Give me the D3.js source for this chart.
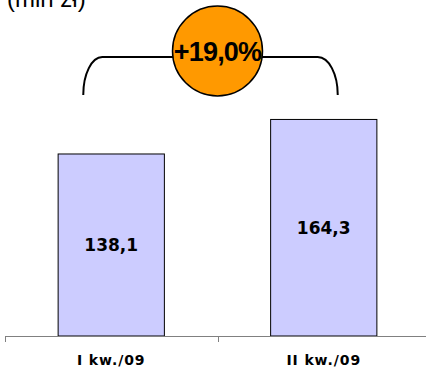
<!DOCTYPE html>
<html>
<head>
<meta charset="utf-8">
<script src="https://cdn.jsdelivr.net/npm/d3@7"></script>
<style>
  html, body { margin: 0; padding: 0; background: #fff; }
  svg { display: block; }
</style>
</head>
<body>
<svg id="chart" width="426" height="368"></svg>
<script>
// Quarterly figures (mln zł)
const categories = ["I kw./09", "II kw./09"];
const values = [138.1, 164.3];
const valueLabels = ["138,1", "164,3"];
const unitLabel = "(mln zł)";
const growthLabel = "+19,0%";

const W = 426, H = 368;
const svg = d3.select("#chart");

const baseY = 336;
const x = d3.scaleBand().domain(categories).range([5, 430]).paddingInner(0).paddingOuter(0);
const y = d3.scaleLinear().domain([0, 200]).range([baseY, baseY - 263.6]);
const barW = x.bandwidth() * 0.5;

// unit caption, partly above the top edge
svg.append("text")
  .attr("x", 7).attr("y", 7)
  .attr("font-family", "Liberation Sans, Arial, sans-serif")
  .attr("font-size", 24)
  .attr("fill", "#000")
  .text(unitLabel);

// bars
svg.selectAll("rect.bar").data(values).enter().append("rect")
  .attr("class", "bar")
  .attr("x", (d, i) => x(categories[i]) + (x.bandwidth() - barW) / 2)
  .attr("y", d => y(d))
  .attr("width", barW)
  .attr("height", d => baseY - y(d))
  .attr("fill", "#CCCCFF")
  .attr("stroke", "#000")
  .attr("stroke-width", 1);

// value labels in the middle of each bar
svg.selectAll("text.val").data(values).enter().append("text")
  .attr("class", "val")
  .attr("x", (d, i) => x(categories[i]) + x.bandwidth() / 2)
  .attr("y", d => (y(d) + baseY) / 2)
  .attr("dy", "0.36em")
  .attr("text-anchor", "middle")
  .attr("font-family", "DejaVu Sans, Verdana, sans-serif")
  .attr("font-weight", "bold")
  .attr("font-size", 17)
  .attr("fill", "#000")
  .text((d, i) => valueLabels[i]);

// category axis
const axis = svg.append("g").attr("transform", `translate(0,${baseY})`);
axis.append("line")
  .attr("x1", 5).attr("x2", W)
  .attr("y1", 0.5).attr("y2", 0.5)
  .attr("stroke", "#808080").attr("stroke-width", 1);
const tickXs = categories.map(c => x(c)).concat([x.range()[1]]);
axis.selectAll("line.tick").data(tickXs).enter().append("line")
  .attr("class", "tick")
  .attr("x1", d => Math.round(d) + 0.5).attr("x2", d => Math.round(d) + 0.5)
  .attr("y1", 0).attr("y2", 6)
  .attr("stroke", "#808080").attr("stroke-width", 1);
axis.selectAll("text.cat").data(categories).enter().append("text")
  .attr("class", "cat")
  .attr("x", d => x(d) + x.bandwidth() / 2)
  .attr("y", 29)
  .attr("text-anchor", "middle")
  .attr("font-family", "DejaVu Sans, Verdana, sans-serif")
  .attr("font-weight", "bold")
  .attr("font-size", 14)
  .attr("letter-spacing", 0.9)
  .attr("fill", "#000")
  .text(d => d);

// growth bracket spanning both quarters
const mid = x(categories[1]);
const bx1 = x(categories[0]) + x.bandwidth() / 2 - 28;
const bx2 = x(categories[1]) + x.bandwidth() / 2 + 14;
const bTop = 57, bBot = 95;
svg.append("path")
  .attr("d", `M${bx1},${bBot} A19,${bBot - bTop} 0 0 1 ${bx1 + 19},${bTop} L${bx2 - 20},${bTop} A20,${bBot - bTop} 0 0 1 ${bx2},${bBot}`)
  .attr("fill", "none")
  .attr("stroke", "#000")
  .attr("stroke-width", 2);

// growth badge
const cy = 51, r = 45;
svg.append("circle")
  .attr("cx", mid).attr("cy", cy).attr("r", r)
  .attr("fill", "#FF9900")
  .attr("stroke", "#000")
  .attr("stroke-width", 1.5);
svg.append("text")
  .attr("x", mid).attr("y", cy)
  .attr("dy", "0.36em")
  .attr("text-anchor", "middle")
  .attr("font-family", "Liberation Sans, Arial, sans-serif")
  .attr("font-weight", "bold")
  .attr("font-size", 27)
  .attr("letter-spacing", -0.8)
  .attr("fill", "#000")
  .text(growthLabel);
</script>
</body>
</html>
